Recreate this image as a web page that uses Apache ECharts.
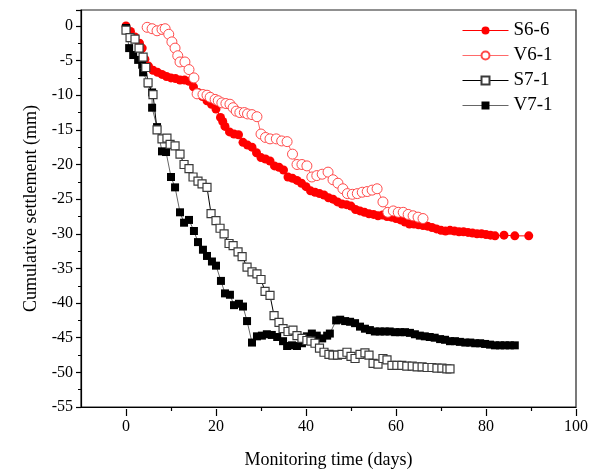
<html lang="en">
<head>
    <meta charset="UTF-8">
    <title>Cumulative settlement</title>
    <script src="https://cdn.jsdelivr.net/npm/echarts@6.0.0/dist/echarts.min.js"></script>
    <style>
        html, body { margin: 0; padding: 0; background: #fff; }
        #my-chart { width: 595px; height: 474px; }
    </style>
</head>
<body>
    <div id="my-chart"></div>
    <script>
        // [day, settlement mm]
        const s66 = [
            [0, 0], [1, -0.8], [2, -1.6], [3, -2.5], [3.6, -3.2], [4.2, -4.8], [5, -5.8], [6, -6.4],
            [7, -6.7], [8, -7.0], [9, -7.3], [10, -7.5], [11, -7.6], [12, -7.8], [13, -7.8], [14, -8.0],
            [15, -8.8], [16, -9.6], [17, -10.2], [18, -10.8], [19, -11.3], [20, -12.0], [21, -13.2],
            [21.5, -13.8], [22, -14.5], [23, -15.3], [24, -15.6], [25, -15.7], [26, -16.8], [27, -17.2],
            [28, -17.5], [29, -18.3], [30, -19.0], [31, -19.2], [32, -19.5], [33, -20.2], [34, -20.4],
            [35, -20.8], [36, -21.8], [37, -22.0], [38, -22.3], [39, -22.7], [40, -23.2], [41, -23.8],
            [42, -24.0], [43, -24.2], [44, -24.4], [45, -24.8], [46, -25.0], [47, -25.4], [48, -25.7],
            [49, -25.8], [50, -26.0], [51, -26.5], [52, -26.7], [53, -26.9], [54, -27.1], [55, -27.2],
            [56, -27.4], [57, -27.3], [58, -27.5], [59, -27.6], [60, -27.8], [61, -28.0], [62, -28.3],
            [63, -28.6], [64, -28.6], [65, -28.7], [66, -28.8], [67, -28.9], [68, -29.1], [69, -29.3],
            [70, -29.5], [71, -29.6], [72, -29.5], [73, -29.6], [74, -29.7], [75, -29.7], [76, -29.8],
            [77, -29.9], [78, -30.0], [79, -30.0], [80, -30.1], [81, -30.2], [82, -30.3], [84, -30.2],
            [86.4, -30.3], [89.5, -30.3]
        ];
        const v61 = [
            [4.7, -0.2], [5.8, -0.4], [6.9, -0.7], [8.0, -0.5], [8.7, -0.4], [9.5, -1.2], [10.2, -2.3],
            [10.9, -3.2], [11.5, -4.3], [12.0, -5.2], [13.1, -5.2], [14.0, -6.3], [15.1, -7.5],
            [15.8, -9.8], [17.1, -9.9], [18.0, -10.0], [18.7, -10.3], [19.8, -10.6], [20.5, -10.8],
            [21.3, -11.1], [22.2, -11.2], [23.1, -11.3], [23.8, -11.8], [24.5, -12.3], [25.3, -12.5],
            [26.3, -12.5], [27.0, -12.7], [28.0, -12.8], [29.1, -13.1], [30.0, -15.6], [31.0, -16.1],
            [32.0, -16.3], [33.4, -16.3], [34.6, -16.6], [35.8, -16.7], [37.0, -18.5], [38.0, -20.0],
            [39.1, -20.0], [40.2, -20.2], [41.3, -21.8], [42.4, -21.6], [43.6, -21.4], [44.9, -21.1],
            [46.0, -22.2], [47.1, -22.7], [48.2, -23.5], [49.2, -24.2], [50.3, -24.3], [51.4, -24.2],
            [52.5, -24.0], [53.6, -23.9], [54.7, -23.7], [55.8, -23.5], [57.1, -25.4], [58.2, -26.9],
            [59.4, -26.7], [60.5, -26.9], [61.6, -26.9], [62.7, -27.2], [63.8, -27.4], [64.9, -27.6],
            [66.0, -27.8]
        ];
        const s71 = [
            [0, -0.6], [0.9, -1.7], [2.0, -1.9], [2.9, -3.2], [3.8, -4.5], [4.4, -6.0], [4.9, -8.2],
            [6.0, -9.9], [6.9, -15.0], [8.0, -16.3], [9.1, -16.2], [9.8, -17.1], [10.9, -17.3],
            [12.0, -18.5], [12.9, -20.0], [14.0, -20.6], [14.9, -21.8], [16.0, -22.4], [16.9, -22.8],
            [18.0, -23.3], [18.9, -27.1], [20.0, -28.1], [20.9, -29.2], [21.8, -30.0], [22.9, -31.4],
            [23.8, -31.7], [24.9, -32.6], [25.8, -33.3], [26.9, -34.8], [28.0, -35.5], [29.1, -35.8],
            [30.0, -36.6], [30.9, -38.3], [32.0, -38.9], [32.9, -41.8], [34.0, -42.8], [34.9, -43.7],
            [36.0, -44.1], [37.1, -43.9], [38.0, -44.7], [39.1, -45.1], [40.2, -45.4], [41.1, -45.5],
            [42.0, -45.8], [43.0, -46.5], [44.0, -47.1], [45.1, -47.4], [46.0, -47.5], [47.0, -47.5],
            [48.0, -47.4], [49.1, -47.1], [50.0, -47.7], [50.9, -48.0], [52.0, -47.4], [53.1, -47.2],
            [54.0, -47.5], [54.9, -48.7], [56.0, -48.8], [57.1, -48.0], [58.0, -48.2], [59.1, -49.0],
            [60.2, -49.0], [61.3, -49.0], [62.4, -49.1], [63.6, -49.1], [64.7, -49.2], [65.8, -49.2],
            [66.9, -49.3], [68.0, -49.3], [69.1, -49.4], [70.2, -49.4], [71.3, -49.5], [72.0, -49.5]
        ];
        const v71 = [
            [0, -0.3], [0.7, -3.2], [1.6, -4.2], [2.7, -4.9], [3.6, -5.6], [3.8, -6.7], [4.9, -8.3],
            [5.8, -9.6], [5.8, -11.8], [6.9, -14.6], [8.0, -18.1], [8.9, -18.2], [10.0, -21.8],
            [10.9, -23.3], [12.0, -26.9], [12.9, -28.4], [14.0, -28.0], [15.1, -29.6], [16.0, -31.2],
            [17.1, -32.3], [18.0, -33.2], [19.1, -34.0], [20.0, -34.6], [21.1, -36.8], [22.0, -38.6],
            [23.1, -38.8], [24.0, -40.3], [25.1, -40.1], [26.0, -40.5], [26.9, -42.6], [28.0, -45.7],
            [29.1, -44.8], [30.2, -44.7], [31.3, -44.5], [32.4, -44.6], [33.6, -44.9], [34.9, -45.5],
            [35.8, -46.2], [36.9, -46.1], [38.0, -46.2], [39.1, -45.8], [40.2, -44.8], [41.3, -44.4],
            [42.4, -44.7], [43.6, -45.1], [44.7, -44.7], [45.3, -44.4], [46.7, -42.5], [47.6, -42.4],
            [48.7, -42.6], [49.8, -42.7], [50.9, -42.9], [52.0, -43.4], [53.1, -43.7], [54.2, -43.9],
            [55.3, -44.1], [56.4, -44.1], [57.5, -44.1], [58.6, -44.1], [59.8, -44.2], [60.9, -44.2],
            [62.0, -44.2], [63.1, -44.3], [64.2, -44.5], [65.3, -44.7], [66.4, -44.8], [67.5, -44.9],
            [68.6, -45.0], [69.8, -45.2], [70.9, -45.3], [72.0, -45.5], [73.1, -45.5], [74.2, -45.6],
            [75.4, -45.7], [76.5, -45.7], [77.6, -45.8], [78.7, -45.8], [79.8, -45.9], [80.9, -46.0],
            [82.0, -46.1], [83.1, -46.1], [84.2, -46.1], [85.3, -46.1], [86.4, -46.1]
        ];
        const seriesNames = ['S6-6', 'V6-1', 'S7-1', 'V7-1'];
        const xLabels = [0, 20, 40, 60, 80, 100];
        const xMinor = [10, 30, 50, 70, 90];

        const font = 'Liberation Serif, Times New Roman, serif';

        window.onload = function () {
            var myChart = echarts.init(document.getElementById('my-chart'));
            const gridBox = { left: 81, right: 19, top: 10, bottom: 65 };

            let option = {
                animation: false,
                textStyle: { fontFamily: font, color: '#000' },
                grid: [
                    Object.assign({ show: true, borderColor: '#222', borderWidth: 1.2 }, gridBox),
                    Object.assign({}, gridBox)
                ],
                legend: {
                    data: seriesNames,
                    orient: 'vertical',
                    left: 457,
                    top: 16,
                    itemWidth: 46,
                    itemHeight: 10,
                    itemGap: 6,
                    lineStyle: { width: 1 },
                    textStyle: { fontFamily: font, fontSize: 19, color: '#000' }
                },
                xAxis: [{
                    type: 'value',
                    min: -10,
                    max: 100,
                    interval: 10,
                    name: 'Monitoring time (days)',
                    nameLocation: 'middle',
                    nameGap: 44,
                    nameTextStyle: { fontFamily: font, fontSize: 18, color: '#000' },
                    axisLine: { onZero: false, lineStyle: { color: '#000', width: 1.2 } },
                    axisTick: { show: true, customValues: xMinor, length: 4, lineStyle: { color: '#000', width: 1.2 } },
                    axisLabel: { customValues: xLabels, fontFamily: font, fontSize: 16, color: '#000', margin: 12 },
                    splitLine: { show: false }
                }, {
                    type: 'value',
                    gridIndex: 1,
                    min: -10,
                    max: 100,
                    interval: 10,
                    axisLine: { show: false, onZero: false },
                    axisTick: { show: true, customValues: xLabels, length: 7, lineStyle: { color: '#000', width: 1.2 } },
                    axisLabel: { show: false },
                    splitLine: { show: false }
                }],
                yAxis: [{
                    type: 'value',
                    min: -55,
                    max: 2.3,
                    interval: 5,
                    name: 'Cumulative settlement (mm)',
                    nameLocation: 'middle',
                    nameGap: 41,
                    nameTextStyle: { fontFamily: font, fontSize: 18, color: '#000' },
                    axisLine: { show: true, onZero: false, lineStyle: { color: '#000', width: 1.2 } },
                    axisTick: { show: true, length: 5, lineStyle: { color: '#000', width: 1.2 } },
                    minorTick: { show: true, splitNumber: 2, length: 3, lineStyle: { color: '#000', width: 1 } },
                    axisLabel: {
                        fontFamily: font, fontSize: 16, color: '#000', margin: 8,
                        formatter: function (v) { return v > 0 ? '' : String(v); }
                    },
                    splitLine: { show: false }
                }, {
                    type: 'value',
                    gridIndex: 1,
                    min: -55,
                    max: 2.3,
                    show: false
                }],
                series: [
                    {
                        name: 'S6-6',
                        type: 'line',
                        data: s66,
                        symbol: 'circle',
                        symbolSize: 9,
                        itemStyle: { color: '#ff0000' },
                        lineStyle: { color: '#ff0000', width: 1 }
                    },
                    {
                        name: 'V6-1',
                        type: 'line',
                        data: v61,
                        symbol: 'circle',
                        symbolSize: 10,
                        itemStyle: { color: '#ffffff', borderColor: '#ff4a4a', borderWidth: 1 },
                        lineStyle: { color: '#ff6a6a', width: 1 }
                    },
                    {
                        name: 'V7-1',
                        type: 'line',
                        data: v71,
                        symbol: 'rect',
                        symbolSize: 8,
                        itemStyle: { color: '#000000' },
                        lineStyle: { color: '#666666', width: 1 }
                    },
                    {
                        name: 'S7-1',
                        type: 'line',
                        data: s71,
                        symbol: 'rect',
                        symbolSize: 8,
                        itemStyle: { color: '#ffffff', borderColor: '#3a3a3a', borderWidth: 1.2 },
                        lineStyle: { color: '#000000', width: 1 }
                    }
                ]
            };

            myChart.setOption(option);
        };
    </script>
</body>
</html>
